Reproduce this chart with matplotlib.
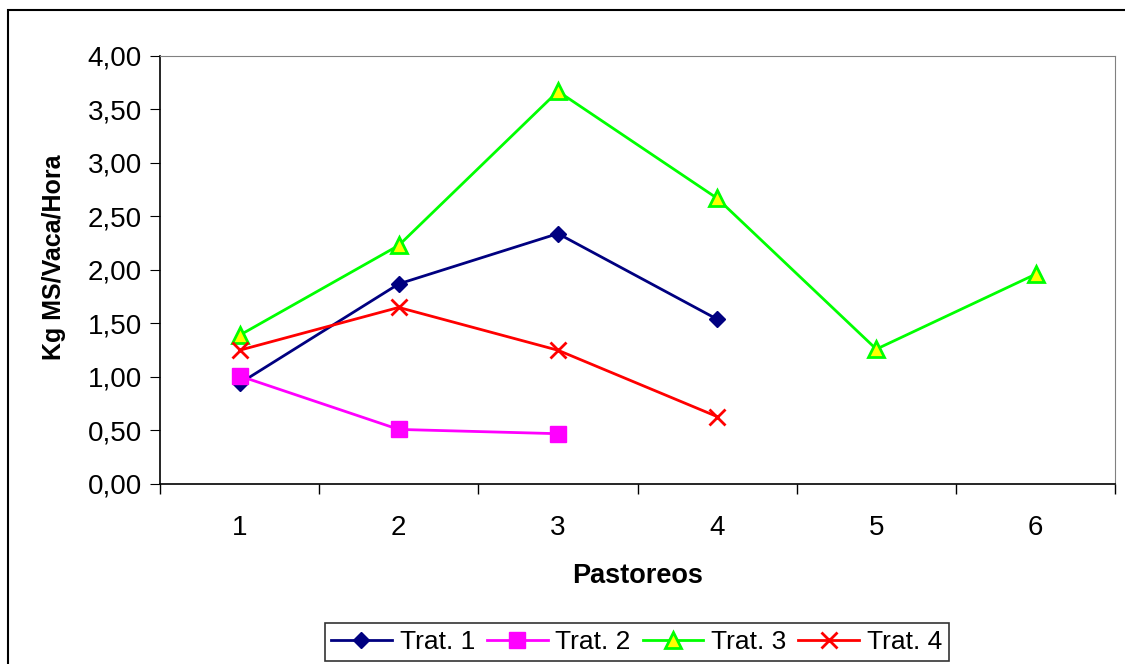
import numpy as np
import matplotlib.pyplot as plt
from matplotlib.patches import Rectangle

plt.rcParams['font.family'] = ['Liberation Sans', 'DejaVu Sans']

pastoreos = [1, 2, 3, 4, 5, 6]
trat1 = [0.94, 1.87, 2.34, 1.54]
trat2 = [1.01, 0.51, 0.47]
trat3 = [1.39, 2.23, 3.67, 2.67, 1.26, 1.96]
trat4 = [1.25, 1.65, 1.25, 0.63]
yticks = [0, 0.5, 1.0, 1.5, 2.0, 2.5, 3.0, 3.5, 4.0]

fig = plt.figure(figsize=(11.25, 6.64), dpi=100)
ax = fig.add_axes([0.1422, 0.2711, 0.849, 0.6446])

ax.plot(pastoreos[:len(trat1)], trat1, color='#000080', lw=2, marker='D', ms=8,
        mfc='#000080', mec='#000080', label='Trat. 1')
ax.plot(pastoreos[:len(trat2)], trat2, color='#FF00FF', lw=2, marker='s', ms=11,
        mfc='#FF00FF', mec='#FF00FF', label='Trat. 2')
ax.plot(pastoreos[:len(trat3)], trat3, color='#00FF00', lw=2, marker='^', ms=11,
        mfc='#FFFF00', mec='#00FF00', mew=2, label='Trat. 3')
ax.plot(pastoreos[:len(trat4)], trat4, color='#FF0000', lw=2, marker='x', ms=12,
        mec='#FF0000', mew=2, label='Trat. 4')

ax.set_xlim(0.5, 6.5)
ax.set_ylim(0, 4)
ax.set_yticks(yticks)
ax.set_yticklabels([f'{v:.2f}'.replace('.', ',') for v in yticks])
ax.set_xticks(pastoreos)
ax.set_xticklabels([str(p) for p in pastoreos])
ax.set_xticks(np.arange(0.5, 7, 1), minor=True)
ax.tick_params(axis='x', which='major', length=0, labelsize=20, pad=22)
ax.tick_params(axis='x', which='minor', length=7, direction='out', width=1)
ax.tick_params(axis='y', length=7, direction='out', labelsize=20, pad=6)

for s in ['top', 'right']:
    ax.spines[s].set_color('#808080')
for s in ['left', 'bottom']:
    ax.spines[s].set_color('black')
    ax.spines[s].set_linewidth(1.2)

ax.set_xlabel('Pastoreos', fontsize=19.5, fontweight='bold', labelpad=16)
ax.set_ylabel('Kg MS/Vaca/Hora', fontsize=18, fontweight='bold')
ax.yaxis.set_label_coords(-0.0985, 0.529)

leg = fig.legend(loc='center', bbox_to_anchor=(0.566, 0.033), ncol=4, fontsize=19,
                 frameon=True, fancybox=False, edgecolor='black', handlelength=2.3,
                 columnspacing=0.45, handletextpad=0.3, borderpad=0.25, borderaxespad=0)
leg.get_frame().set_linewidth(1.2)

fig.patches.append(Rectangle((0.007, -0.1), 1.1, 1.085, transform=fig.transFigure,
                             fill=False, edgecolor='black', lw=1.5, clip_on=False))

fig.savefig('out.png', dpi=100)
